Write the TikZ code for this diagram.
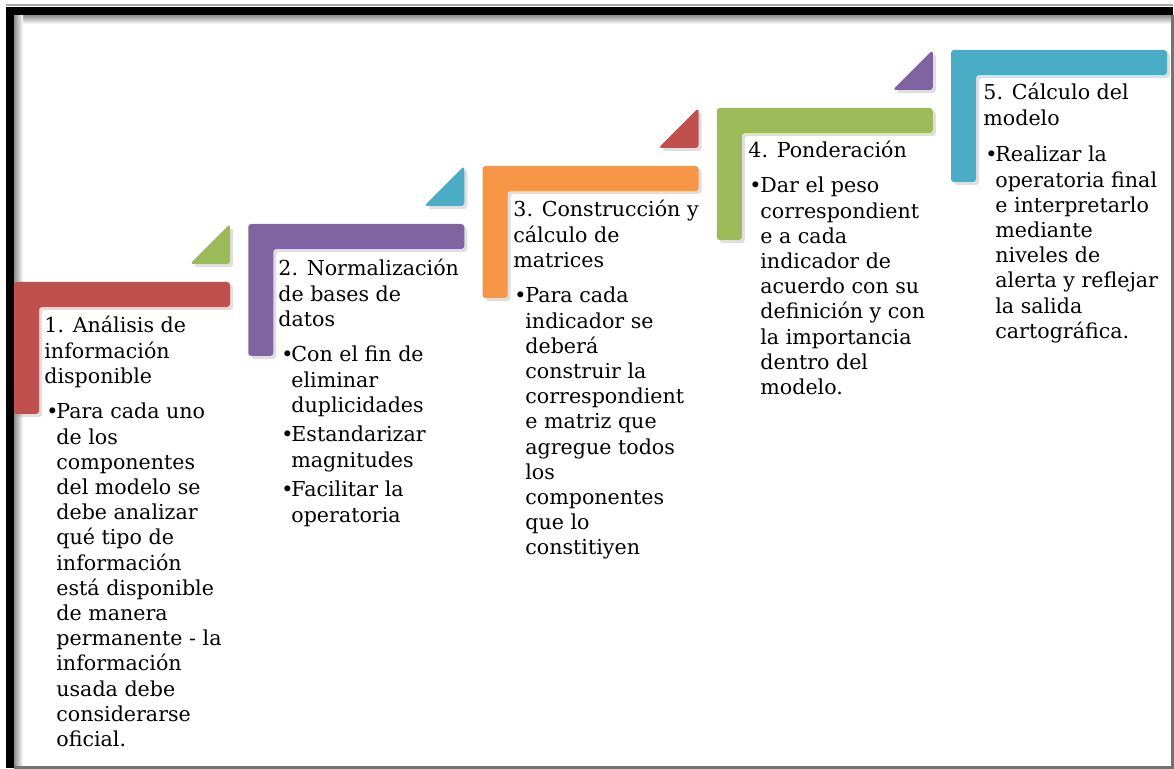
\documentclass[tikz,border=0pt]{standalone}
\usepackage{fontspec}
\setmainfont{DejaVu Serif}
\usetikzlibrary{shadows}
\definecolor{R}{RGB}{192,80,77}
\definecolor{G}{RGB}{155,187,89}
\definecolor{P}{RGB}{128,100,162}
\definecolor{B}{RGB}{75,172,198}
\definecolor{O}{RGB}{247,150,70}
\tikzset{
  bar/.style={rounded corners=1.5pt, drop shadow={opacity=0.25, shadow xshift=1.5pt, shadow yshift=-1.5pt}},
  txt/.style={anchor=base west, inner sep=0pt, font=\fontsize{10.3}{12.6}\selectfont},
}
\newcommand{\drawstep}[3]{\fill[#1, bar] (#2,#3)--++(216,0)--++(0,25)--++(-191,0)--++(0,107)--++(-25,0)--cycle;}
\newcommand{\drawwedge}[3]{\fill[#1, bar] (#2+216,#3-58)--++(0,40)--++(-40,0)--cycle;}
\newcommand{\bul}[2]{\node[txt] (#1) at (#2) {\textbullet};}
\newcommand{\lines}[1]{\begin{tabular}[t]{@{}l@{}}#1\end{tabular}}

\begin{document}
\begin{tikzpicture}[x=0.5pt, y=-0.5pt]
\useasboundingbox (0,0) rectangle (1174,769);
\fill[white] (0,0) rectangle (1174,769);
\shade[top color=black!45, bottom color=white] (14,15) rectangle (1172,24);
\shade[left color=black!45, right color=white] (14,15) rectangle (23,767);
\fill[black] (6,7) rectangle (1173,15);
\fill[black] (6,7) rectangle (14,768);
\draw[black!35, line width=1] (6,5.5)--(1173,5.5);
\draw[black!55, line width=2] (1172.5,15)--(1172.5,768)--(14,768);
\foreach \c [count=\i from 0] in {R,P,O,G,B}{
  \pgfmathsetmacro\xa{14+234.25*\i}
  \pgfmathsetmacro\ya{282-58*\i}
  \drawstep{\c}{\xa}{\ya}
}
\foreach \c [count=\i from 0] in {G,B,R,P}{
  \pgfmathsetmacro\xa{14+234.25*\i}
  \pgfmathsetmacro\ya{282-58*\i}
  \drawwedge{\c}{\xa}{\ya}
}
\node[txt] (t1) at (44,333) {\lines{1. Análisis de\\información\\disponible}};
\bul{d1}{46,419}
\node[txt] (p1) at (56,419) {\lines{Para cada uno\\de los\\componentes\\del modelo se\\debe analizar\\qué tipo de\\información\\está disponible\\de manera\\permanente - la\\información\\usada debe\\considerarse\\oficial.}};
\node[txt] (t2) at (278,276) {\lines{2. Normalización\\de bases de\\datos}};
\bul{d2a}{281,362}
\node[txt] (p2a) at (291,362) {\lines{Con el fin de\\eliminar\\duplicidades}};
\bul{d2b}{281,442}
\node[txt] (p2b) at (291,442) {\lines{Estandarizar\\magnitudes}};
\bul{d2c}{281,497}
\node[txt] (p2c) at (291,497) {\lines{Facilitar la\\operatoria}};
\node[txt] (t3) at (513,217) {\lines{3. Construcción y\\cálculo de\\matrices}};
\bul{d3}{514,303}
\node[txt] (p3) at (525,303) {\lines{Para cada\\indicador se\\deberá\\construir la\\correspondient\\e matriz que\\agregue todos\\los\\componentes\\que lo\\constitiyen}};
\node[txt] (t4) at (748,158) {4. Ponderación};
\bul{d4}{749,193}
\node[txt] (p4) at (760,193) {\lines{Dar el peso\\correspondient\\e a cada\\indicador de\\acuerdo con su\\definición y con\\la importancia\\dentro del\\modelo.}};
\node[txt] (t5) at (983,100) {\lines{5. Cálculo del\\modelo}};
\bul{d5}{985,162}
\node[txt] (p5) at (995,162) {\lines{Realizar la\\operatoria final\\e interpretarlo\\mediante\\niveles de\\alerta y reflejar\\la salida\\cartográfica.}};
\end{tikzpicture}
\end{document}
